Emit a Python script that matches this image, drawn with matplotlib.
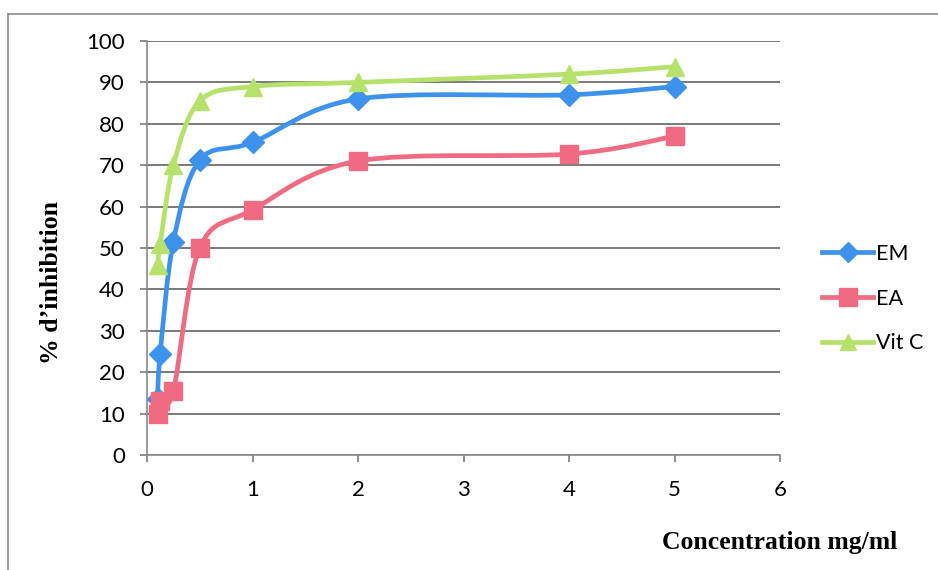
import numpy as np
import matplotlib.pyplot as plt
from matplotlib.path import Path
from matplotlib.patches import PathPatch
from matplotlib.lines import Line2D

# concentrations (mg/ml) and % inhibition for each extract
conc = [0.1, 0.125, 0.25, 0.5, 1, 2, 4, 5]
em = [13.5, 24.5, 51.5, 71.2, 75.5, 86, 87, 89]
ea = [10, 13, 15.5, 50, 59.2, 71, 72.7, 77]
vitc = [46, 51, 70, 85.5, 89, 90, 92, 93.8]

x_ticks = [0, 1, 2, 3, 4, 5, 6]
y_ticks = list(range(0, 101, 10))

colors = {"EM": "#3d92ec", "EA": "#f06b82", "Vit C": "#b6e26c"}
markers = {"EM": "D", "EA": "s", "Vit C": "^"}
msize = {"EM": 11.5, "EA": 13.5, "Vit C": 13}

plt.rcParams['font.family'] = ['Lato', 'DejaVu Sans']


def smooth_path(xs, ys):
    # bezier segments through the points, same idea as a spreadsheet "smoothed line"
    p = np.column_stack([xs, ys]).astype(float)
    n = len(p)
    verts = [p[0]]
    codes = [Path.MOVETO]
    for i in range(n - 1):
        p0 = p[i - 1] if i > 0 else p[i]
        p1, p2 = p[i], p[i + 1]
        p3 = p[i + 2] if i + 2 < n else p[i + 1]
        c1 = p1 + (p2 - p0) / 6.0
        c2 = p2 - (p3 - p1) / 6.0
        verts += [c1, c2, p2]
        codes += [Path.CURVE4] * 3
    return Path(verts, codes)


fig = plt.figure(figsize=(9.38, 5.70), dpi=100)
ax = fig.add_axes([147 / 938, 115 / 570, 633 / 938, 414 / 570])

series = [("EM", em), ("EA", ea), ("Vit C", vitc)]
handles = []
for name, vals in series:
    c = colors[name]
    patch = PathPatch(smooth_path(conc, vals), facecolor="none", edgecolor=c,
                      lw=3.4, capstyle="round", joinstyle="round", zorder=3)
    ax.add_patch(patch)
    ax.plot(conc, vals, linestyle="none", marker=markers[name], markersize=msize[name],
            color=c, markeredgecolor=c, zorder=4)
    handles.append(Line2D([], [], color=c, lw=3.4, marker=markers[name],
                          markersize=msize[name] - 1, label=name))

ax.set_xlim(0, 6)
ax.set_ylim(0, 100)
ax.set_xticks(x_ticks)
ax.set_yticks(y_ticks)
ax.tick_params(axis="both", labelsize=16, colors="#7a7a7a", length=5, width=1.2,
               labelcolor="black")
ax.tick_params(axis="x", pad=13)
ax.tick_params(axis="y", pad=11)
ax.yaxis.grid(True, color="#6f6f6f", lw=1.3)
ax.set_axisbelow(True)
for s in ["top", "right"]:
    ax.spines[s].set_visible(False)
for s in ["left", "bottom"]:
    ax.spines[s].set_color("#8a8a8a")
    ax.spines[s].set_linewidth(1.2)

leg = fig.legend(handles=handles, loc="upper left", bbox_to_anchor=(811 / 938, 1 - 233 / 570),
                 frameon=False, fontsize=15.5, handlelength=2.4, labelspacing=1.15,
                 handletextpad=0.1, borderpad=0)

fig.text(51 / 938, 1 - 282 / 570, "% d\u2019inhibition", rotation=90, ha="center", va="center",
         family="Liberation Serif", fontweight="bold", fontsize=18.5)
fig.text(897 / 938, 1 - 542 / 570, "Concentration mg/ml", ha="right", va="center",
         family="Liberation Serif", fontweight="bold", fontsize=18.5)

# outer chart frame
fig.add_artist(Line2D([8 / 938, 8 / 938], [0, 1 - 14 / 570], transform=fig.transFigure,
                      color="#8c8c8c", lw=1.2))
fig.add_artist(Line2D([8 / 938, 1], [1 - 14 / 570, 1 - 14 / 570], transform=fig.transFigure,
                      color="#8c8c8c", lw=1.2))

fig.savefig("out.png", dpi=100)
